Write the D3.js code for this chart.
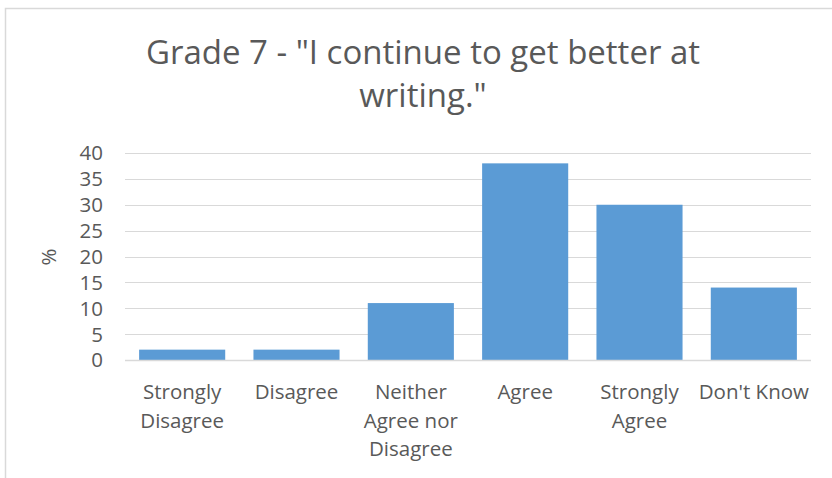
<!DOCTYPE html>
<html>
<head>
<meta charset="utf-8">
<script src="https://cdn.jsdelivr.net/npm/d3@7"></script>
<style>
  html, body { margin: 0; padding: 0; background: #fff; }
  svg { display: block; }
  text { font-family: "Open Sans", "Noto Sans", sans-serif; fill: #595959; }
</style>
</head>
<body>
<script>
// Survey responses, Grade 7
const titleLines = ['Grade 7 - "I continue to get better at', 'writing."'];
const categories = [
  ["Strongly", "Disagree"],
  ["Disagree"],
  ["Neither", "Agree nor", "Disagree"],
  ["Agree"],
  ["Strongly", "Agree"],
  ["Don't Know"]
];
const values = [2, 2, 11, 38, 30, 14];
const yTicks = [0, 5, 10, 15, 20, 25, 30, 35, 40];
const yLabel = "%";

const W = 832, H = 478;
const plot = { left: 125, right: 811, top: 153, bottom: 360 };

const svg = d3.select("body").append("svg").attr("width", W).attr("height", H);

// chart frame (runs past the visible edge)
svg.append("rect")
  .attr("x", 5.5).attr("y", 8.5)
  .attr("width", W + 20).attr("height", H + 20)
  .attr("fill", "none").attr("stroke", "#d9d9d9").attr("stroke-width", 1.5);

const x = d3.scaleBand()
  .domain(d3.range(categories.length))
  .range([plot.left, plot.right])
  .paddingInner(0.247).paddingOuter(0.1235);

const y = d3.scaleLinear().domain([0, 40]).range([plot.bottom, plot.top]);

// gridlines
svg.append("g").selectAll("line")
  .data(yTicks.filter(d => d > 0))
  .join("line")
  .attr("x1", plot.left).attr("x2", plot.right)
  .attr("y1", d => Math.round(y(d)) + 0.5).attr("y2", d => Math.round(y(d)) + 0.5)
  .attr("stroke", "#d9d9d9").attr("stroke-width", 1);

// y tick labels
svg.append("g").selectAll("text")
  .data(yTicks)
  .join("text")
  .attr("x", 103).attr("y", d => y(d))
  .attr("dy", "0.36em")
  .attr("text-anchor", "end")
  .attr("font-size", 20.5)
  .text(d => d);

// bars
svg.append("g").selectAll("rect")
  .data(values)
  .join("rect")
  .attr("x", (d, i) => x(i))
  .attr("width", x.bandwidth())
  .attr("y", d => y(d))
  .attr("height", d => y(0) - y(d))
  .attr("fill", "#5b9bd5");

// baseline
svg.append("line")
  .attr("x1", plot.left).attr("x2", plot.right)
  .attr("y1", Math.round(y(0)) + 0.5).attr("y2", Math.round(y(0)) + 0.5)
  .attr("stroke", "#d9d9d9").attr("stroke-width", 1.5);

// category labels
const cat = svg.append("g").selectAll("text")
  .data(categories)
  .join("text")
  .attr("text-anchor", "middle")
  .attr("font-size", 20.5)
  .attr("x", (d, i) => x(i) + x.bandwidth() / 2)
  .attr("y", 399);
cat.selectAll("tspan")
  .data(d => d)
  .join("tspan")
  .attr("x", function () { return this.parentNode.getAttribute("x"); })
  .attr("dy", (d, i) => i === 0 ? 0 : 28.5)
  .text(d => d);

// axis title
svg.append("text")
  .attr("transform", `translate(56,257) rotate(-90)`)
  .attr("text-anchor", "middle")
  .attr("font-size", 20.5)
  .text(yLabel);

// chart title
svg.append("g").selectAll("text")
  .data(titleLines)
  .join("text")
  .attr("x", 423)
  .attr("y", (d, i) => 64 + i * 43)
  .attr("text-anchor", "middle")
  .attr("font-size", 33)
  .text(d => d);
</script>
</body>
</html>
